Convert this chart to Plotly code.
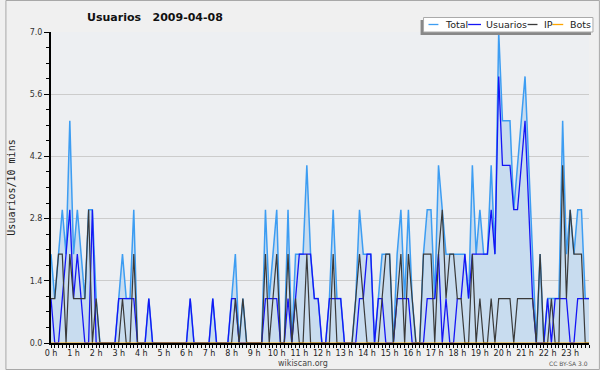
import plotly.graph_objects as go

# 10-minute slots of the day (minutes since 00:00)
slots = list(range(0, 1440, 10))
hour_labels = [f"{h} h" for h in range(24)]
series_names = ["Total", "Usuarios", "IP", "Bots"]
series_colors = ["#3d9df2", "#1515f5", "#3a3a3a", "#ffa500"]

total = [
    2, 1, 2, 3, 2, 5, 2, 3, 2, 1, 3, 3,
    1, 0, 0, 0, 0, 0, 1, 2, 1, 1, 3, 0,
    0, 0, 1, 0, 0, 0, 0, 0, 0, 0, 0, 0,
    0, 1, 0, 0, 0, 0, 0, 1, 0, 0, 0, 0,
    1, 2, 0, 1, 0, 0, 0, 0, 0, 3, 1, 2,
    3, 0, 0, 3, 0, 2, 2, 2, 4, 2, 1, 1,
    0, 0, 1, 3, 1, 1, 0, 0, 0, 1, 3, 2,
    2, 2, 0, 1, 2, 2, 2, 0, 2, 3, 1, 3,
    1, 0, 0, 2, 3, 3, 1, 4, 3, 2, 2, 2,
    2, 2, 2, 1, 4, 2, 3, 2, 2, 4, 2, 7,
    5, 5, 5, 3, 4, 5, 6, 4, 2, 0, 2, 0,
    1, 1, 1, 1, 5, 2, 3, 2, 3, 3, 1, 1,
]
usuarios = [
    1, 0, 0, 1, 2, 3, 1, 2, 1, 0, 0, 3,
    0, 0, 0, 0, 0, 0, 1, 1, 1, 1, 1, 0,
    0, 0, 1, 0, 0, 0, 0, 0, 0, 0, 0, 0,
    0, 1, 0, 0, 0, 0, 0, 1, 0, 0, 0, 0,
    1, 1, 0, 0, 0, 0, 0, 0, 0, 1, 1, 1,
    1, 0, 0, 1, 0, 1, 2, 2, 2, 2, 1, 1,
    0, 0, 1, 1, 1, 1, 0, 0, 0, 0, 1, 1,
    2, 2, 0, 1, 1, 0, 0, 0, 1, 1, 1, 1,
    0, 0, 0, 0, 1, 1, 1, 2, 0, 1, 0, 0,
    1, 1, 2, 1, 2, 2, 2, 2, 2, 3, 2, 6,
    4, 4, 4, 3, 3, 4, 5, 3, 1, 0, 0, 0,
    1, 0, 1, 1, 1, 1, 0, 0, 1, 1, 1, 1,
]
ip = [
    1, 1, 2, 2, 0, 2, 1, 1, 1, 1, 3, 0,
    1, 0, 0, 0, 0, 0, 0, 1, 0, 0, 2, 0,
    0, 0, 0, 0, 0, 0, 0, 0, 0, 0, 0, 0,
    0, 0, 0, 0, 0, 0, 0, 0, 0, 0, 0, 0,
    0, 1, 0, 1, 0, 0, 0, 0, 0, 2, 0, 1,
    2, 0, 0, 2, 0, 1, 0, 0, 2, 0, 0, 0,
    0, 0, 0, 2, 0, 0, 0, 0, 0, 1, 2, 1,
    0, 0, 0, 0, 1, 2, 2, 0, 1, 2, 0, 2,
    1, 0, 0, 2, 2, 2, 0, 2, 3, 1, 2, 2,
    1, 1, 0, 0, 2, 0, 1, 0, 0, 1, 0, 1,
    1, 1, 1, 0, 1, 1, 1, 1, 1, 0, 2, 0,
    0, 1, 0, 0, 4, 1, 3, 2, 2, 2, 0, 0,
]
bots = [
    0, 0, 0, 0, 0, 0, 0, 0, 0, 0, 0, 0,
    0, 0, 0, 0, 0, 0, 0, 0, 0, 0, 0, 0,
    0, 0, 0, 0, 0, 0, 0, 0, 0, 0, 0, 0,
    0, 0, 0, 0, 0, 0, 0, 0, 0, 0, 0, 0,
    0, 0, 0, 0, 0, 0, 0, 0, 0, 0, 0, 0,
    0, 0, 0, 0, 0, 0, 0, 0, 0, 0, 0, 0,
    0, 0, 0, 0, 0, 0, 0, 0, 0, 0, 0, 0,
    0, 0, 0, 0, 0, 0, 0, 0, 0, 0, 0, 0,
    0, 0, 0, 0, 0, 0, 0, 0, 0, 0, 0, 0,
    0, 0, 0, 0, 0, 0, 0, 0, 0, 0, 0, 0,
    0, 0, 0, 0, 0, 0, 0, 0, 0, 0, 0, 0,
    0, 0, 0, 0, 0, 0, 0, 0, 0, 0, 0, 0,
]
y_ticks = [0.0, 1.4, 2.8, 4.2, 5.6, 7.0]
y_tick_labels = ["0.0", "1.4", "2.8", "4.2", "5.6", "7.0"]

W, H = 600, 370
ML, MR, MT, MB = 46, 11, 32, 27
PW, PH = W - ML - MR, H - MT - MB


def px(xp):
    return (xp - ML) / PW


def py(yp):
    return (H - MB - yp) / PH


FONT = "DejaVu Sans"
fig = go.Figure()
values = [total, usuarios, ip, bots]
widths = [1.5, 1.3, 1.2, 1.2]
for k, (name, vals) in enumerate(zip(series_names, values)):
    kw = {}
    if k == 0:
        kw = dict(fill="tozeroy", fillcolor="#c8dcef")
    fig.add_trace(go.Scatter(
        x=slots, y=vals, name=name, mode="lines",
        line=dict(color=series_colors[k], width=widths[k]),
        showlegend=False, hoverinfo="skip", **kw))

fig.update_xaxes(
    range=[slots[0], slots[-1]], showgrid=False, zeroline=False,
    showline=True, linecolor="black", linewidth=2,
    ticks="outside", ticklen=3, tickwidth=1, tickcolor="black",
    ticklabelstandoff=-2,
    tickvals=[60 * h for h in range(24)], ticktext=hour_labels,
    tickfont=dict(family=FONT, size=8, color="#222"),
    minor=dict(tickvals=slots, ticks="outside",
               ticklen=3, tickcolor="black", tickwidth=1, showgrid=False),
)
fig.update_yaxes(
    range=[0, 7], zeroline=False,
    showgrid=True, gridcolor="#cccccc", gridwidth=1,
    showline=True, linecolor="black", linewidth=2,
    ticks="outside", ticklen=5, tickwidth=1, tickcolor="black",
    tickvals=y_ticks, ticktext=y_tick_labels,
    tickfont=dict(family=FONT, size=8, color="#333"),
    minor=dict(dtick=0.35, tick0=0, ticks="outside", ticklen=3,
               tickcolor="black", tickwidth=1, showgrid=False),
    title=dict(text="Usuarios/10 mins", standoff=12,
               font=dict(family="DejaVu Sans Mono", size=10, color="#222")),
)

shapes = [
    # outer border
    dict(type="rect", xref="paper", yref="paper",
         x0=px(0.5), x1=px(W - 0.5), y0=py(H - 0.5), y1=py(0.5),
         line=dict(color="#a8a8a8", width=1), layer="above"),
    # legend shadow
    dict(type="rect", xref="paper", yref="paper",
         x0=px(419), x1=px(591), y0=py(35), y1=py(20),
         fillcolor="#888888", line=dict(width=0), layer="above"),
    # legend box
    dict(type="rect", xref="paper", yref="paper",
         x0=px(422), x1=px(593), y0=py(32), y1=py(17.5),
         fillcolor="white", line=dict(color="#aaaaaa", width=1), layer="above"),
]
annotations = [
    dict(text="<b>Usuarios\u00a0\u00a0 2009-04-08</b>", xref="paper", yref="paper",
         x=px(151), y=py(17), xanchor="center", yanchor="middle", showarrow=False,
         font=dict(family=FONT, size=11, color="#111")),
    dict(text="wikiscan.org", xref="paper", yref="paper",
         x=px(300), y=py(363.5), xanchor="center", yanchor="middle", showarrow=False,
         font=dict(family=FONT, size=8, color="#444")),
    dict(text="CC BY-SA 3.0", xref="paper", yref="paper",
         x=px(590), y=py(363.5), xanchor="right", yanchor="middle", showarrow=False,
         font=dict(family=FONT, size=6, color="#555")),
]
leg_line = [(427, 437), (467, 480), (527, 537), (552, 563)]
leg_text = [441.5, 483, 542, 567.5]
for k, name in enumerate(series_names):
    shapes.append(dict(type="line", xref="paper", yref="paper",
                       x0=px(leg_line[k][0]), x1=px(leg_line[k][1]),
                       y0=py(24.5), y1=py(24.5),
                       line=dict(color=series_colors[k], width=1.3), layer="above"))
    annotations.append(dict(text=name, xref="paper", yref="paper",
                            x=px(leg_text[k]), y=py(24.8), xanchor="left",
                            yanchor="middle", showarrow=False,
                            font=dict(family=FONT, size=9.5, color="#222")))

fig.update_layout(
    width=W, height=H, margin=dict(l=ML, r=MR, t=MT, b=MB),
    paper_bgcolor="#f0f0f0", plot_bgcolor="#edeff2",
    shapes=shapes, annotations=annotations, showlegend=False,
)
fig.write_html("out.html")
